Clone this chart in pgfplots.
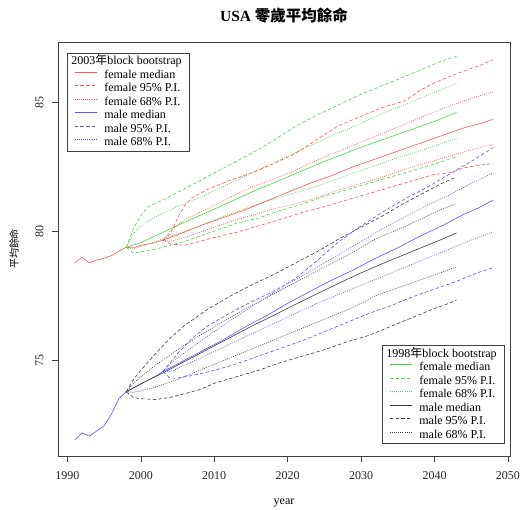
\documentclass[border=0pt]{standalone}
\usepackage{fontspec}
\setmainfont{Liberation Serif}
\newfontfamily\cjk{Noto Sans CJK TC}
\usepackage{pgfplots}
\pgfplotsset{compat=1.18}
\definecolor{cred}{RGB}{255,85,85}
\definecolor{cgreen}{RGB}{70,215,70}
\definecolor{cblue}{RGB}{85,85,255}
\definecolor{cblack}{RGB}{60,60,60}
\tikzset{
  med/.style={solid, line width=0.6pt},
  p95/.style={dash pattern=on 3.5pt off 2.2pt, line width=0.6pt},
  p68/.style={dash pattern=on 0.9pt off 1.2pt, line width=0.6pt},
}
\pgfplotsset{
  myleg/.style={
    legend cell align=left,
    legend style={draw=black!75, line width=0.6pt, fill=white,
      font=\fontsize{12}{14}\selectfont, inner xsep=7pt, inner ysep=2pt,
      row sep=0.6pt, column sep=6pt,
      nodes={inner sep=1pt, text height=8.3pt, text depth=2.6pt}},
    legend image code/.code={\draw[##1] (0pt,3pt) -- (22pt,3pt);},
  },
  common/.style={
    scale only axis, width=452pt, height=414pt,
    xmin=1988.72, xmax=2050.28, ymin=71.28, ymax=87.33,
  }
}
\begin{document}
\begin{tikzpicture}
\path[use as bounding box] (-58pt,-53pt) rectangle (464pt,456pt);
\begin{axis}[common, myleg,
  axis line style={black!75, line width=0.7pt},
  tick style={black!75, line width=0.6pt},
  tick align=outside, major tick length=6pt,
  xtick={1990,2000,...,2050}, ytick={75,80,85},
  xtick pos=bottom, ytick pos=left,
  /pgf/number format/assume math mode=true,
  /pgf/number format/1000 sep={},
  tick label style={font=\fontsize{12}{14}\selectfont, text=black!85},
  xticklabel style={yshift=-6pt},
  yticklabel style={rotate=90, anchor=south, yshift=5pt},
  title={\fontsize{15.5}{17}\selectfont\bfseries USA {\cjk\bfseries 零歲平均餘命}},
  title style={at={(0.5,1)}, anchor=center, yshift=20pt},
  xlabel={year},
  xlabel style={at={(0.5,0)}, anchor=center, yshift=-47pt, font=\fontsize{12}{14}\selectfont},
  ylabel={平均餘命},
  ylabel style={at={(0,0.5)}, anchor=center, yshift=44pt, font=\cjk\fontsize{10}{12}\selectfont},
  legend style={at={(0.0199,0.9734)}, anchor=north west},
]
\addlegendimage{empty legend}
\addlegendentry{\hspace*{-33pt}2003{\cjk 年}block bootstrap}
\addlegendimage{draw=cred, solid, line width=1pt}\addlegendentry{female median}
\addlegendimage{draw=cred, p95, line width=1pt}\addlegendentry{female 95\% P.I.}
\addlegendimage{draw=cred, p68, line width=1pt}\addlegendentry{female 68\% P.I.}
\addlegendimage{draw=cblue, solid, line width=1pt}\addlegendentry{male median}
\addlegendimage{draw=cblue, p95, line width=1pt}\addlegendentry{male 95\% P.I.}
\addlegendimage{draw=cblue, p68, line width=1pt}\addlegendentry{male 68\% P.I.}

% historical
\addplot[cred, med, forget plot] coordinates {(1991,78.77)(1992,78.98)(1993,78.77)(1994,78.88)(1995,78.95)(1996,79.05)(1997,79.22)(1998,79.37)(1999,79.35)(2000,79.45)(2001,79.5)(2002,79.55)(2003,79.65)};
\addplot[cblue, med, forget plot] coordinates {(1991,71.9)(1992,72.18)(1993,72.05)(1994,72.25)(1995,72.45)(1996,72.9)(1997,73.5)(1998,73.77)(1999,73.92)(2000,74.07)(2001,74.22)(2002,74.37)(2003,74.55)};

% 1998 female (green)
\addplot[cgreen, med, forget plot] coordinates {(1998,79.37)(2000,79.55)(2003,79.95)(2006,80.35)(2010,80.85)(2015,81.5)(2020,82.1)(2025,82.7)(2030,83.25)(2035,83.75)(2040,84.25)(2043,84.6)};
\addplot[cgreen, p95, forget plot] coordinates {(1998,79.37)(1999,80.1)(2000,80.6)(2001,80.95)(2003,81.2)(2005,81.5)(2007,81.8)(2009,82.1)(2012,82.55)(2015,83.0)(2018,83.5)(2021,84.05)(2024,84.5)(2027,84.9)(2030,85.3)(2033,85.65)(2036,86.0)(2039,86.35)(2041,86.6)(2043,86.78)};
\addplot[cgreen, p95, forget plot] coordinates {(1998,79.37)(1999,79.15)(2000,79.2)(2002,79.3)(2004,79.45)(2006,79.6)(2008,79.8)(2010,80.0)(2013,80.3)(2016,80.5)(2019,80.8)(2022,81.05)(2025,81.35)(2028,81.6)(2031,81.85)(2034,82.1)(2037,82.35)(2040,82.6)(2043,82.88)};
\addplot[cgreen, p68, forget plot] coordinates {(1998,79.37)(1999,79.9)(2000,80.2)(2002,80.55)(2005,80.95)(2008,81.3)(2011,81.7)(2014,82.1)(2017,82.5)(2020,82.9)(2023,83.3)(2026,83.7)(2029,84.05)(2032,84.45)(2035,84.8)(2038,85.15)(2041,85.5)(2043,85.72)};
\addplot[cgreen, p68, forget plot] coordinates {(1998,79.37)(1999,79.3)(2000,79.4)(2002,79.6)(2005,79.9)(2008,80.2)(2011,80.55)(2014,80.85)(2017,81.15)(2020,81.4)(2023,81.65)(2026,81.95)(2029,82.25)(2032,82.55)(2035,82.85)(2038,83.1)(2041,83.4)(2043,83.59)};

% 2003 female (red)
\addplot[cred, med, forget plot] coordinates {(2003,79.65)(2005,79.85)(2008,80.2)(2011,80.5)(2014,80.8)(2017,81.15)(2020,81.5)(2023,81.85)(2026,82.15)(2029,82.5)(2032,82.8)(2035,83.1)(2038,83.4)(2041,83.7)(2044,84.0)(2046,84.15)(2048,84.33)};
\addplot[cred, p95, forget plot] coordinates {(2003,79.65)(2004,79.9)(2005,80.5)(2006,81.0)(2007,81.3)(2009,81.6)(2012,81.95)(2015,82.25)(2018,82.6)(2021,83.0)(2024,83.55)(2027,84.1)(2030,84.45)(2033,84.8)(2036,85.05)(2038,85.45)(2040,85.75)(2043,86.1)(2046,86.4)(2048,86.65)};
\addplot[cred, p95, forget plot] coordinates {(2003,79.65)(2004,79.5)(2006,79.45)(2008,79.6)(2010,79.75)(2013,79.95)(2016,80.2)(2019,80.45)(2022,80.72)(2025,80.95)(2028,81.2)(2031,81.45)(2034,81.7)(2037,81.95)(2040,82.2)(2042,82.25)(2044,82.45)(2046,82.55)(2048,82.62)};
\addplot[cred, p68, forget plot] coordinates {(2003,79.65)(2004,80.0)(2006,80.45)(2009,80.85)(2012,81.3)(2015,81.7)(2018,82.0)(2021,82.35)(2024,82.75)(2027,83.1)(2030,83.45)(2033,83.8)(2036,84.15)(2039,84.5)(2042,84.85)(2045,85.15)(2048,85.4)};
\addplot[cred, p68, forget plot] coordinates {(2003,79.65)(2004,79.6)(2006,79.75)(2009,80.05)(2012,80.35)(2015,80.6)(2018,80.85)(2021,81.05)(2024,81.3)(2027,81.6)(2030,81.85)(2033,82.1)(2036,82.4)(2039,82.65)(2042,82.9)(2045,83.15)(2048,83.37)};

% 1998 male (black)
\addplot[cblack, med, forget plot] coordinates {(1998,73.77)(2000,74.08)(2003,74.5)(2006,74.95)(2009,75.4)(2012,75.85)(2015,76.3)(2018,76.72)(2021,77.15)(2024,77.57)(2027,77.98)(2030,78.38)(2033,78.75)(2036,79.1)(2039,79.45)(2041,79.68)(2043,79.93)};
\addplot[cblack, p95, forget plot] coordinates {(1998,73.77)(1999,74.25)(2000,74.6)(2002,75.25)(2004,75.85)(2006,76.35)(2009,76.95)(2012,77.45)(2015,77.9)(2018,78.3)(2021,78.75)(2024,79.2)(2027,79.7)(2030,80.15)(2033,80.6)(2036,81.1)(2039,81.55)(2041,81.85)(2043,82.1)};
\addplot[cblack, p95, forget plot] coordinates {(1998,73.77)(1999,73.55)(2000,73.5)(2002,73.47)(2004,73.55)(2006,73.7)(2008,73.85)(2010,74.1)(2013,74.35)(2016,74.6)(2019,74.9)(2022,75.15)(2025,75.4)(2028,75.7)(2031,75.95)(2034,76.3)(2037,76.65)(2040,77.0)(2042,77.2)(2043,77.33)};
\addplot[cblack, p68, forget plot] coordinates {(1998,73.77)(1999,74.1)(2000,74.35)(2002,74.8)(2005,75.4)(2008,75.95)(2011,76.45)(2014,76.95)(2017,77.4)(2020,77.85)(2023,78.3)(2026,78.75)(2029,79.2)(2032,79.7)(2035,80.05)(2038,80.45)(2041,80.85)(2043,81.07)};
\addplot[cblack, p68, forget plot] coordinates {(1998,73.77)(1999,73.75)(2000,73.8)(2002,73.95)(2005,74.25)(2008,74.6)(2011,74.95)(2014,75.3)(2017,75.65)(2020,76.0)(2023,76.35)(2026,76.7)(2029,77.05)(2032,77.5)(2035,77.8)(2038,78.1)(2041,78.4)(2043,78.62)};

% 2003 male (blue)
\addplot[cblue, med, forget plot] coordinates {(2003,74.55)(2005,74.85)(2008,75.3)(2011,75.75)(2014,76.25)(2017,76.7)(2020,77.2)(2023,77.65)(2026,78.1)(2029,78.5)(2032,78.95)(2035,79.35)(2038,79.8)(2041,80.2)(2044,80.65)(2046,80.9)(2048,81.2)};
\addplot[cblue, p95, forget plot] coordinates {(2003,74.55)(2004,74.9)(2005,75.25)(2007,75.85)(2009,76.3)(2012,76.8)(2015,77.25)(2018,77.65)(2021,78.15)(2024,78.85)(2027,79.6)(2030,80.2)(2033,80.75)(2036,81.25)(2039,81.7)(2042,82.2)(2045,82.7)(2048,83.24)};
\addplot[cblue, p95, forget plot] coordinates {(2003,74.55)(2004,74.3)(2005,74.3)(2007,74.4)(2010,74.6)(2013,74.85)(2016,75.15)(2019,75.45)(2022,75.75)(2025,76.1)(2028,76.45)(2031,76.8)(2034,77.1)(2037,77.45)(2040,77.75)(2043,78.05)(2046,78.4)(2048,78.58)};
\addplot[cblue, p68, forget plot] coordinates {(2003,74.55)(2004,74.85)(2006,75.3)(2009,75.9)(2012,76.5)(2015,77.05)(2018,77.6)(2021,78.1)(2024,78.6)(2027,79.1)(2030,79.6)(2033,80.1)(2036,80.55)(2039,81.0)(2042,81.4)(2045,81.85)(2048,82.26)};
\addplot[cblue, p68, forget plot] coordinates {(2003,74.55)(2004,74.55)(2006,74.8)(2009,75.2)(2012,75.6)(2015,76.0)(2018,76.4)(2021,76.8)(2024,77.2)(2027,77.55)(2030,77.9)(2033,78.25)(2036,78.6)(2039,78.95)(2042,79.3)(2045,79.65)(2048,79.97)};
\end{axis}
\begin{axis}[common, myleg, hide axis,
  legend style={at={(0.9889,0.029)}, anchor=south east},
]
\addlegendimage{empty legend}
\addlegendentry{\hspace*{-33pt}1998{\cjk 年}block bootstrap}
\addlegendimage{draw=cgreen, solid, line width=1pt}\addlegendentry{female median}
\addlegendimage{draw=cgreen, p95, line width=1pt}\addlegendentry{female 95\% P.I.}
\addlegendimage{draw=cgreen, p68, line width=1pt}\addlegendentry{female 68\% P.I.}
\addlegendimage{draw=cblack, solid, line width=1pt}\addlegendentry{male median}
\addlegendimage{draw=cblack, p95, line width=1pt}\addlegendentry{male 95\% P.I.}
\addlegendimage{draw=cblack, p68, line width=1pt}\addlegendentry{male 68\% P.I.}
\end{axis}
\end{tikzpicture}
\end{document}
